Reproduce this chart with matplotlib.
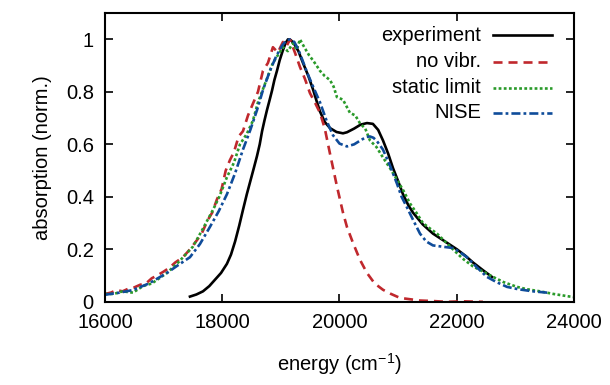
import numpy as np
import matplotlib.pyplot as plt

plt.rcParams['font.family'] = ['Liberation Sans', 'DejaVu Sans']
plt.rcParams['font.size'] = 14.5
plt.rcParams['lines.scale_dashes'] = False

# experiment
exp_x = [17450, 17560, 17672, 17780, 17880, 17980, 18081, 18150, 18220, 18290, 18354,
         18420, 18480, 18540, 18593, 18640, 18680, 18720, 18763, 18810, 18850, 18890,
         18934, 18980, 19030, 19080, 19122, 19170, 19220, 19300, 19378, 19470, 19548,
         19610, 19668, 19750, 19838, 19950, 20060, 20128, 20250, 20360, 20469, 20570,
         20660, 20742, 20830, 20912, 21000, 21083, 21170, 21253, 21420, 21594, 21800,
         22004, 22150, 22277, 22450, 22601]
exp_y = [0.02, 0.028, 0.04, 0.06, 0.085, 0.11, 0.145, 0.18, 0.23, 0.29, 0.35,
         0.41, 0.46, 0.51, 0.555, 0.6, 0.65, 0.69, 0.73, 0.77, 0.805, 0.845,
         0.88, 0.92, 0.955, 0.985, 1.0, 0.997, 0.985, 0.955, 0.91, 0.86, 0.81,
         0.765, 0.725, 0.685, 0.662, 0.647, 0.642, 0.646, 0.66, 0.675, 0.681, 0.678,
         0.655, 0.615, 0.565, 0.51, 0.46, 0.41, 0.37, 0.34, 0.295, 0.26, 0.23,
         0.2, 0.175, 0.15, 0.12, 0.095]

# no vibr.
nv_x = [16000, 16100, 16200, 16300, 16400, 16500, 16600, 16700, 16800, 16887, 17000,
        17100, 17200, 17330, 17450, 17570, 17650, 17750, 17830, 17910, 17990, 18060,
        18132, 18200, 18280, 18354, 18440, 18524, 18610, 18695, 18780, 18865, 18950,
        19036, 19100, 19155, 19240, 19326, 19410, 19497, 19580, 19668, 19750, 19838,
        19900, 19957, 20060, 20128, 20230, 20350, 20469, 20600, 20742, 20880, 21032,
        21200, 21373, 21600, 21834, 22100, 22447]
nv_y = [0.03, 0.035, 0.045, 0.04, 0.05, 0.055, 0.065, 0.07, 0.09, 0.1, 0.115,
        0.13, 0.15, 0.17, 0.2, 0.235, 0.26, 0.31, 0.34, 0.39, 0.43, 0.5,
        0.54, 0.57, 0.63, 0.65, 0.71, 0.755, 0.8, 0.88, 0.91, 0.97, 0.95,
        0.99, 0.975, 1.0, 0.95, 0.895, 0.85, 0.795, 0.76, 0.72, 0.66, 0.565,
        0.5, 0.44, 0.34, 0.285, 0.225, 0.16, 0.11, 0.07, 0.046, 0.03, 0.015,
        0.01, 0.005, 0.003, 0.0, 0.002, 0.0]

# static limit
sl_x = [16000, 16150, 16300, 16478, 16650, 16800, 17057, 17250, 17500, 17650, 17842,
        17950, 18081, 18200, 18303, 18420, 18524, 18610, 18695, 18780, 18865, 18950,
        19036, 19120, 19207, 19270, 19326, 19400, 19480, 19548, 19610, 19668, 19750,
        19838, 19900, 19957, 20060, 20179, 20270, 20350, 20440, 20520, 20630, 20742,
        20860, 20981, 21100, 21202, 21310, 21424, 21540, 21663, 21800, 21936, 22100,
        22277, 22450, 22618, 22800, 23028, 23200, 23420, 23650, 23932, 24000]
sl_y = [0.03, 0.03, 0.04, 0.035, 0.06, 0.07, 0.11, 0.15, 0.21, 0.27, 0.35,
        0.4, 0.475, 0.53, 0.6, 0.64, 0.69, 0.76, 0.81, 0.86, 0.91, 0.94,
        0.97, 0.955, 0.985, 0.96, 1.0, 0.97, 0.94, 0.92, 0.9, 0.88, 0.86,
        0.845, 0.82, 0.78, 0.77, 0.72, 0.71, 0.68, 0.66, 0.615, 0.59, 0.55,
        0.51, 0.465, 0.42, 0.375, 0.34, 0.3, 0.28, 0.26, 0.23, 0.2, 0.165,
        0.135, 0.115, 0.095, 0.075, 0.057, 0.048, 0.04, 0.03, 0.02, 0.018]

# NISE
ni_x = [16000, 16250, 16478, 16750, 17057, 17250, 17450, 17620, 17790, 17940, 18081,
        18220, 18354, 18480, 18593, 18700, 18814, 18920, 19019, 19090, 19155, 19230,
        19300, 19370, 19445, 19560, 19668, 19780, 19889, 20000, 20128, 20250, 20380,
        20460, 20520, 20580, 20640, 20742, 20860, 20981, 21060, 21151, 21260, 21373,
        21480, 21594, 21760, 21936, 22050, 22174, 22350, 22515, 22680, 22857, 23050,
        23300, 23590]
ni_y = [0.027, 0.035, 0.045, 0.07, 0.11, 0.14, 0.17, 0.22, 0.285, 0.345, 0.41,
        0.49, 0.58, 0.655, 0.73, 0.81, 0.88, 0.935, 0.975, 0.995, 1.0, 0.99,
        0.96, 0.92, 0.875, 0.815, 0.76, 0.69, 0.635, 0.603, 0.592, 0.6, 0.618,
        0.628, 0.63, 0.625, 0.612, 0.58, 0.52, 0.45, 0.4, 0.36, 0.31, 0.26,
        0.23, 0.215, 0.21, 0.205, 0.19, 0.17, 0.13, 0.095, 0.075, 0.057, 0.048,
        0.04, 0.034]

labels = ['experiment', 'no vibr.', 'static limit', 'NISE']
red = '#c0282d'
green = '#2a9a2a'
blue = '#0f4c9a'

fig = plt.figure(figsize=(6.1, 3.85), dpi=100)
ax = fig.add_axes([0.172, 0.216, 0.769, 0.75])

lw = 1.9
styles = [
    dict(color='black', lw=lw),
    dict(color=red, lw=lw, dashes=(6.5, 4.3)),
    dict(color=green, lw=lw, dashes=(2.0, 1.7)),
    dict(color=blue, lw=lw, dashes=(6.5, 2.2, 2.0, 2.2)),
]
series = [(exp_x, exp_y), (nv_x, nv_y), (sl_x, sl_y), (ni_x, ni_y)]
for (xs, ys), st in zip(series, styles):
    ax.plot(xs, ys, **st)

ax.set_xlim(16000, 24000)
ax.set_ylim(0, 1.1)
ax.set_xticks(np.arange(16000, 24001, 2000))
ax.set_yticks([0, 0.2, 0.4, 0.6, 0.8, 1.0])
ax.set_yticklabels(['0', '0.2', '0.4', '0.6', '0.8', '1'])
ax.tick_params(direction='in', top=True, right=True, length=6, width=1.2, pad=8)
for sp in ax.spines.values():
    sp.set_linewidth(1.5)

ax.set_xlabel(r'energy (cm$^\mathregular{-1}$)', labelpad=14)
ax.set_ylabel('absorption (norm.)', labelpad=10)

# gnuplot-style key: right-aligned text, sample to the right
row_y = [0.924, 0.832, 0.742, 0.654]
for lab, st, yy in zip(labels, styles, row_y):
    ax.text(0.802, yy, lab, transform=ax.transAxes, ha='right', va='center')
    ax.plot([0.827, 0.953], [yy, yy], transform=ax.transAxes, **st)

fig.savefig('out.png', dpi=100)
